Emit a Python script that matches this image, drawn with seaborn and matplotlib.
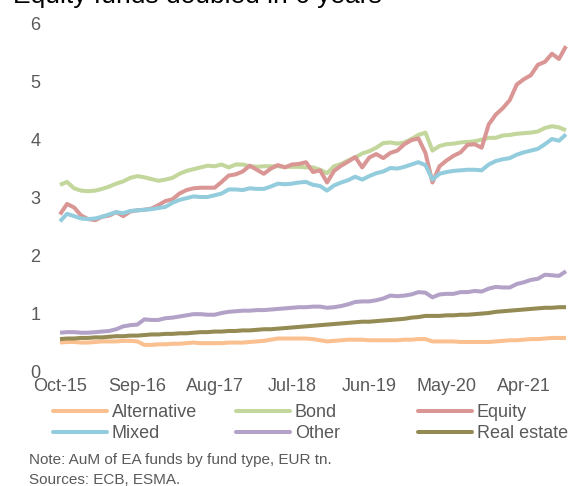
import pandas as pd
import matplotlib.pyplot as plt
from matplotlib.lines import Line2D
import seaborn as sns

# AuM of EA funds by fund type, EUR tn, monthly Oct-15 .. Oct-21
months = pd.date_range("2015-10-01", periods=73, freq="MS").strftime("%b-%y").tolist()

alternative = [0.49, 0.50, 0.50, 0.49, 0.49, 0.50, 0.51, 0.51, 0.51, 0.52, 0.52, 0.51,
               0.45, 0.45, 0.46, 0.46, 0.47, 0.47, 0.48, 0.49, 0.48, 0.48, 0.48, 0.48,
               0.49, 0.49, 0.49, 0.50, 0.51, 0.52, 0.54, 0.56, 0.56, 0.56, 0.56, 0.56,
               0.55, 0.53, 0.51, 0.52, 0.53, 0.54, 0.54, 0.54, 0.53, 0.53, 0.53, 0.53,
               0.53, 0.54, 0.54, 0.55, 0.55, 0.51, 0.51, 0.51, 0.51, 0.50, 0.50, 0.50,
               0.50, 0.50, 0.51, 0.52, 0.53, 0.53, 0.54, 0.55, 0.55, 0.56, 0.57, 0.57,
               0.57]
bond = [3.21, 3.26, 3.15, 3.11, 3.10, 3.11, 3.14, 3.18, 3.23, 3.27, 3.33, 3.36,
        3.34, 3.31, 3.28, 3.30, 3.33, 3.40, 3.45, 3.48, 3.51, 3.54, 3.53, 3.56,
        3.51, 3.56, 3.56, 3.53, 3.52, 3.53, 3.53, 3.53, 3.52, 3.52, 3.52, 3.51,
        3.51, 3.47, 3.41, 3.53, 3.57, 3.63, 3.68, 3.75, 3.79, 3.85, 3.93, 3.94,
        3.92, 3.94, 4.00, 4.07, 4.11, 3.80, 3.88, 3.91, 3.92, 3.94, 3.95, 3.96,
        3.99, 4.02, 4.02, 4.06, 4.07, 4.09, 4.10, 4.11, 4.13, 4.19, 4.22, 4.20,
        4.15]
equity = [2.70, 2.88, 2.82, 2.68, 2.62, 2.60, 2.66, 2.68, 2.74, 2.67, 2.75, 2.77,
          2.78, 2.80, 2.86, 2.93, 2.96, 3.06, 3.12, 3.15, 3.16, 3.16, 3.16, 3.26,
          3.37, 3.39, 3.44, 3.54, 3.47, 3.40, 3.49, 3.55, 3.51, 3.56, 3.57, 3.60,
          3.43, 3.46, 3.25, 3.45, 3.54, 3.61, 3.69, 3.51, 3.68, 3.74, 3.67, 3.76,
          3.80, 3.91, 3.98, 4.01, 3.76, 3.25, 3.53, 3.63, 3.71, 3.77, 3.90, 3.91,
          3.85, 4.25, 4.42, 4.53, 4.67, 4.94, 5.03, 5.10, 5.28, 5.33, 5.47, 5.38,
          5.60]
mixed = [2.58, 2.71, 2.67, 2.63, 2.62, 2.63, 2.66, 2.70, 2.74, 2.72, 2.76, 2.77,
         2.78, 2.79, 2.81, 2.83, 2.90, 2.95, 2.98, 3.01, 3.00, 3.00, 3.03, 3.06,
         3.13, 3.13, 3.12, 3.15, 3.14, 3.14, 3.18, 3.23, 3.22, 3.23, 3.25, 3.26,
         3.21, 3.19, 3.11, 3.20, 3.25, 3.29, 3.35, 3.30, 3.36, 3.41, 3.44, 3.50,
         3.49, 3.52, 3.56, 3.60, 3.55, 3.30, 3.40, 3.43, 3.45, 3.46, 3.47, 3.47,
         3.46, 3.56, 3.62, 3.65, 3.67, 3.73, 3.77, 3.80, 3.83, 3.91, 4.00, 3.97,
         4.08]
other = [0.66, 0.67, 0.67, 0.66, 0.66, 0.67, 0.68, 0.69, 0.72, 0.77, 0.79, 0.80,
         0.89, 0.88, 0.88, 0.91, 0.92, 0.94, 0.96, 0.98, 0.98, 0.97, 0.97, 1.00,
         1.02, 1.03, 1.04, 1.04, 1.05, 1.05, 1.06, 1.07, 1.08, 1.09, 1.10, 1.10,
         1.11, 1.11, 1.09, 1.10, 1.12, 1.15, 1.19, 1.20, 1.20, 1.22, 1.25, 1.30,
         1.29, 1.30, 1.32, 1.36, 1.35, 1.27, 1.32, 1.33, 1.33, 1.36, 1.36, 1.38,
         1.37, 1.42, 1.45, 1.44, 1.44, 1.50, 1.53, 1.57, 1.59, 1.66, 1.65, 1.64,
         1.72]
real_estate = [0.55, 0.56, 0.56, 0.57, 0.57, 0.58, 0.58, 0.59, 0.60, 0.60, 0.61, 0.61,
               0.62, 0.63, 0.63, 0.64, 0.64, 0.65, 0.65, 0.66, 0.67, 0.67, 0.68, 0.68,
               0.69, 0.69, 0.70, 0.70, 0.71, 0.72, 0.72, 0.73, 0.74, 0.75, 0.76, 0.77,
               0.78, 0.79, 0.80, 0.81, 0.82, 0.83, 0.84, 0.85, 0.85, 0.86, 0.87, 0.88,
               0.89, 0.90, 0.92, 0.93, 0.95, 0.95, 0.95, 0.96, 0.96, 0.97, 0.97, 0.98,
               0.99, 1.00, 1.02, 1.03, 1.04, 1.05, 1.06, 1.07, 1.08, 1.09, 1.09, 1.10,
               1.10]

fund_types = ["Alternative", "Bond", "Equity", "Mixed", "Other", "Real estate"]
series = [alternative, bond, equity, mixed, other, real_estate]
colors = ["#FAC090", "#C3D69B", "#D99694", "#93CDDD", "#B3A2C7", "#948A54"]
palette = dict(zip(fund_types, colors))

# long form table for seaborn
df = pd.concat([
    pd.DataFrame({"t": range(len(months)), "aum": vals, "fund": name})
    for name, vals in zip(fund_types, series)
])

sns.set_style("white")
plt.rcParams["font.family"] = ["Liberation Sans", "DejaVu Sans"]

fig = plt.figure(figsize=(5.71, 4.86), dpi=100)
ax = fig.add_axes([60 / 571, 115 / 486, 506 / 571, 348 / 486])

sns.lineplot(data=df, x="t", y="aum", hue="fund", hue_order=fund_types,
             palette=palette, linewidth=2.9, legend=False, ax=ax)
for ln in ax.lines:
    ln.set_clip_on(False)
    ln.set_solid_capstyle("butt")

ax.set_xlim(0, len(months) - 1)
ax.set_ylim(0, 6)
ax.set_yticks(range(7))
ax.set_xticks(range(0, len(months), 11))
ax.set_xticklabels(months[::11])
ax.set_xlabel("")
ax.set_ylabel("")
ax.tick_params(axis="both", length=0, labelsize=13, labelcolor="#595959")
ax.tick_params(axis="y", pad=14)
ax.tick_params(axis="x", pad=5)
sns.despine(ax=ax, left=True, bottom=True)

# legend: three columns of two entries, equal column pitch like Excel
col_x = [53, 236, 418]
for k, x in enumerate(col_x):
    names = [fund_types[k], fund_types[k + 3]]
    handles = [Line2D([], [], color=palette[n], linewidth=2.9) for n in names]
    leg = fig.legend(handles, names, loc="upper left",
                     bbox_to_anchor=(x / 571, 1 - 404 / 486),
                     frameon=False, fontsize=13, handlelength=3.0,
                     handletextpad=0.25, borderpad=0, borderaxespad=0,
                     labelspacing=0.22)
    for txt in leg.get_texts():
        txt.set_color("#595959")

fig.text(13 / 571, 1 - 2.5 / 486, "Equity funds doubled in 6 years",
         fontsize=19, color="black", va="baseline", ha="left")
fig.text(29 / 571, 1 - 460 / 486, "Note: AuM of EA funds by fund type, EUR tn.",
         fontsize=11, color="#595959", va="center", ha="left")
fig.text(29 / 571, 1 - 480 / 486, "Sources: ECB, ESMA.",
         fontsize=11, color="#595959", va="center", ha="left")

fig.savefig("out.png", dpi=100)
